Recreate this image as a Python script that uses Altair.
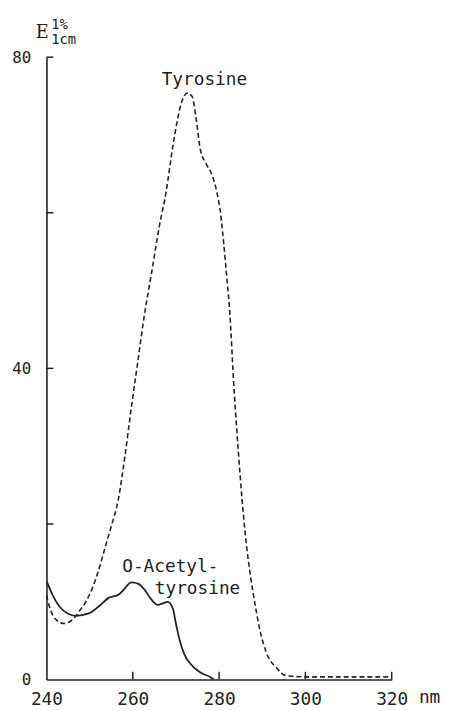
import altair as alt
import pandas as pd

# Tyrosine (dashed)
tyr_nm = [240, 241.1, 242.2, 244.1, 246, 247.5, 249.1, 250.6, 252.1, 253.6, 254.8,
          256.7, 258.2, 259.7, 261.3, 262.4, 264.3, 266.2, 267.7, 269.3, 271.2, 271.9,
          272.7, 273.8, 274.6, 275.7, 276.9, 278.4, 279.5, 280.3, 281.1, 281.8, 282.4,
          283.5, 284.5, 285.3, 286.4, 287.2, 288.3, 289.4, 291, 293.3, 295.5, 300, 310, 320]
tyr_val = [10.8, 8.7, 7.7, 7.2, 7.7, 8.7, 10.0, 11.7, 14.1, 17.0, 19.3,
           23.3, 28.8, 35.1, 41.4, 45.8, 52.1, 58.4, 62.6, 68.6, 74.0, 75.0,
           75.4, 74.9, 72.4, 68.0, 66.4, 64.8, 62.6, 60.1, 55.9, 51.6, 47.8,
           37.0, 29.0, 23.3, 17.0, 13.6, 9.8, 6.5, 3.4, 1.5, 0.5, 0.35, 0.35, 0.35]

# O-Acetyltyrosine (solid)
ac_nm = [240.1, 241.4, 243, 244.9, 246.8, 249.8, 252.1, 254.4, 256.7, 257.8, 259.7,
         261.3, 262.8, 264.3, 265.8, 267, 268.1, 269.3, 270, 270.8, 271.9, 273.4,
         275.7, 278, 278.8]
ac_val = [12.6, 10.9, 9.4, 8.5, 8.2, 8.5, 9.4, 10.5, 10.9, 11.5, 12.5,
          12.3, 11.5, 10.3, 9.6, 9.8, 10.0, 9.1, 7.2, 5.2, 3.3, 2.0,
          0.9, 0.3, 0.0]

x_ticks = [260, 280, 300, 320]
y_ticks = [20, 40, 60, 80]
x_labels = [240, 260, 280, 300, 320]
y_labels = [0, 40, 80]

FONT = "DejaVu Sans Mono"
INK = "#222222"

tyr = pd.DataFrame({"nm": tyr_nm, "E": tyr_val})
ac = pd.DataFrame({"nm": ac_nm, "E": ac_val})

xs = alt.Scale(domain=[240, 320], nice=False, zero=False)
ys = alt.Scale(domain=[0, 80], nice=False)

x_axis = alt.Axis(values=x_labels, title=None, labelFontSize=18, labelPadding=11,
                  labelColor=INK, labelFont=FONT, labelFlush=False)
y_axis = alt.Axis(values=y_labels, title=None, labelFontSize=16, labelPadding=16,
                  labelColor=INK, labelFont=FONT, labelFlush=False)

tyr_line = alt.Chart(tyr).mark_line(
    color=INK, strokeWidth=1.6, strokeDash=[5, 3], interpolate="monotone"
).encode(
    x=alt.X("nm:Q", scale=xs, axis=x_axis),
    y=alt.Y("E:Q", scale=ys, axis=y_axis),
)

ac_line = alt.Chart(ac).mark_line(
    color=INK, strokeWidth=1.8, interpolate="monotone"
).encode(
    x=alt.X("nm:Q", scale=xs),
    y=alt.Y("E:Q", scale=ys),
)

xt = pd.DataFrame({"nm": x_ticks, "y0": [0] * len(x_ticks), "y1": [1.0] * len(x_ticks)})
x_tick_marks = alt.Chart(xt).mark_rule(color=INK, strokeWidth=1.5).encode(
    x=alt.X("nm:Q", scale=xs), y=alt.Y("y0:Q", scale=ys), y2="y1:Q"
)
yt = pd.DataFrame({"E": y_ticks, "x0": [240] * len(y_ticks), "x1": [241.6] * len(y_ticks)})
y_tick_marks = alt.Chart(yt).mark_rule(color=INK, strokeWidth=1.5).encode(
    y=alt.Y("E:Q", scale=ys), x=alt.X("x0:Q", scale=xs), x2="x1:Q"
)

labels = pd.DataFrame({
    "nm": [276.6, 268.7, 275.0],
    "E": [76.4, 13.8, 11.0],
    "text": ["Tyrosine", "O-Acetyl-", "tyrosine"],
})
label_marks = alt.Chart(labels).mark_text(
    font=FONT, fontSize=18, color=INK, align="center", baseline="alphabetic"
).encode(x=alt.X("nm:Q", scale=xs), y=alt.Y("E:Q", scale=ys), text="text:N")

# y-axis title  E (1%, 1cm)
e_df = pd.DataFrame({"nm": [237.5], "E": [82.4], "text": ["E"]})
e_mark = alt.Chart(e_df).mark_text(
    font="DejaVu Serif", fontSize=18, color=INK, align="left", baseline="alphabetic"
).encode(x=alt.X("nm:Q", scale=xs), y=alt.Y("E:Q", scale=ys), text="text:N")

sub_df = pd.DataFrame({
    "nm": [241.1, 241.1],
    "E": [83.65, 81.75],
    "text": ["1%", "1cm"],
})
sub_marks = alt.Chart(sub_df).mark_text(
    font=FONT, fontSize=14, color=INK, align="left", baseline="alphabetic"
).encode(x=alt.X("nm:Q", scale=xs), y=alt.Y("E:Q", scale=ys), text="text:N")

nm_df = pd.DataFrame({"nm": [326.3], "E": [-2.95], "text": ["nm"]})
nm_mark = alt.Chart(nm_df).mark_text(
    font=FONT, fontSize=18, color=INK, align="left", baseline="alphabetic"
).encode(x=alt.X("nm:Q", scale=xs), y=alt.Y("E:Q", scale=ys), text="text:N")

chart = alt.layer(
    tyr_line, ac_line, x_tick_marks, y_tick_marks, label_marks, e_mark, sub_marks, nm_mark
).properties(
    width=350, height=631,
    padding={"left": 39, "top": 45, "right": 52, "bottom": 26},
    autosize=alt.AutoSizeParams(type="none"),
    background="white",
).configure_axis(
    grid=False, ticks=False, domainColor=INK, domainWidth=1.6,
).configure_view(stroke=None)

chart.save("out.html", embed_options={"renderer": "svg", "actions": False})
